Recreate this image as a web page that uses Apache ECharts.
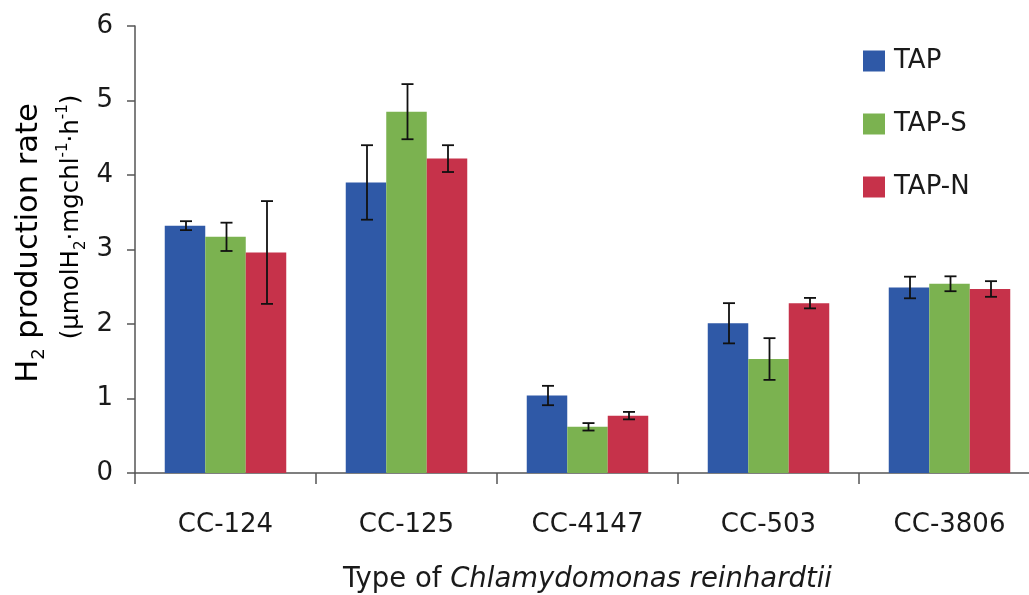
<!DOCTYPE html>
<html>
<head>
<meta charset="utf-8">
<script src="https://cdn.jsdelivr.net/npm/echarts@6/dist/echarts.min.js"></script>
<style>
html,body{margin:0;padding:0;background:#fff;}
#chart{width:1029px;height:595px;}
</style>
</head>
<body>
<div id="chart"></div>
<script>
// ---- data ----
const categories = ['CC-124', 'CC-125', 'CC-4147', 'CC-503', 'CC-3806'];
const seriesNames = ['TAP', 'TAP-S', 'TAP-N'];
const tapValues  = [3.32, 3.90, 1.04, 2.01, 2.49];
const tapErrors  = [0.06, 0.50, 0.13, 0.27, 0.145];
const tapSValues = [3.17, 4.85, 0.62, 1.53, 2.54];
const tapSErrors = [0.19, 0.37, 0.05, 0.28, 0.10];
const tapNValues = [2.96, 4.22, 0.77, 2.28, 2.47];
const tapNErrors = [0.69, 0.18, 0.05, 0.07, 0.105];
const yTicks = [0, 1, 2, 3, 4, 5, 6];

const colors = ['#2f59a7', '#7bb250', '#c6324a'];
const values = [tapValues, tapSValues, tapNValues];
const errors = [tapErrors, tapSErrors, tapNErrors];
const BAR_W = 40.5;
const FONT = '"DejaVu Sans", sans-serif';

const chart = echarts.init(document.getElementById('chart'), null, {renderer: 'canvas'});

const barSeries = seriesNames.map((name, s) => ({
  name: name,
  type: 'bar',
  barWidth: BAR_W,
  barGap: '0%',
  itemStyle: {color: colors[s]},
  data: values[s],
  z: 2
}));

const errSeries = seriesNames.map((name, s) => ({
  type: 'custom',
  name: name + ' err',
  z: 5,
  silent: true,
  encode: {x: 0, y: 1},
  data: values[s].map((v, i) => [i, v, errors[s][i]]),
  renderItem: function (params, api) {
    const x = api.value(0), v = api.value(1), e = api.value(2);
    const off = (s - 1) * BAR_W;
    const top = api.coord([x, v + e]);
    const bot = api.coord([x, v - e]);
    const cx = top[0] + off + 1;
    const cap = 6;
    const st = {stroke: '#111', lineWidth: 1.8};
    return {
      type: 'group',
      children: [
        {type: 'line', shape: {x1: cx, y1: top[1], x2: cx, y2: bot[1]}, style: st},
        {type: 'line', shape: {x1: cx - cap, y1: top[1], x2: cx + cap, y2: top[1]}, style: st},
        {type: 'line', shape: {x1: cx - cap, y1: bot[1], x2: cx + cap, y2: bot[1]}, style: st}
      ]
    };
  }
}));

function richSet(size) {
  const sub = Math.round(size * 0.6);
  return {
    m: {fontSize: size, fontFamily: FONT, lineHeight: size + 8, color: '#1a1a1a'},
    s: {fontSize: sub, fontFamily: FONT, lineHeight: sub, verticalAlign: 'bottom', color: '#1a1a1a'},
    p: {fontSize: sub, fontFamily: FONT, lineHeight: sub, verticalAlign: 'top', color: '#1a1a1a'}
  };
}

const option = {
  animation: false,
  backgroundColor: '#ffffff',
  textStyle: {fontFamily: FONT},
  grid: {left: 135, top: 26, width: 905, bottom: 122, containLabel: false, outerBoundsMode: 'none'},
  legend: {
    orient: 'vertical',
    left: 863,
    top: 48,
    padding: 0,
    itemWidth: 22,
    itemHeight: 21,
    itemGap: 37,
    data: seriesNames,
    icon: 'rect',
    textStyle: {fontSize: 26, lineHeight: 21, fontFamily: FONT, color: '#1a1a1a', padding: [0, 0, 0, 4]}
  },
  xAxis: {
    type: 'category',
    data: categories,
    boundaryGap: true,
    axisLine: {lineStyle: {color: '#555', width: 1.5}},
    axisTick: {show: true, length: 11, alignWithLabel: false, lineStyle: {color: '#555', width: 1.5}},
    axisLabel: {fontSize: 26, fontFamily: FONT, color: '#1a1a1a', margin: 39},
    name: '{n|Type of }{i|Chlamydomonas reinhardtii}',
    nameLocation: 'middle',
    nameGap: 93,
    nameTextStyle: {
      rich: {
        n: {fontSize: 27.5, fontFamily: FONT, color: '#1a1a1a'},
        i: {fontSize: 27.5, fontFamily: FONT, fontStyle: 'italic', color: '#1a1a1a'}
      }
    }
  },
  yAxis: {
    type: 'value',
    min: yTicks[0],
    max: yTicks[yTicks.length - 1],
    interval: 1,
    splitLine: {show: false},
    axisLine: {show: true, lineStyle: {color: '#555', width: 1.5}},
    axisTick: {show: true, length: 8, lineStyle: {color: '#555', width: 1.5}},
    axisLabel: {fontSize: 26, fontFamily: FONT, color: '#1a1a1a', margin: 22}
  },
  graphic: [
    {
      type: 'text',
      x: 29, y: 243,
      rotation: Math.PI / 2,
      style: {
        x: 0, y: 0,
        align: 'center', verticalAlign: 'middle',
        text: '{m|H}{s|2}{m| production rate}',
        rich: richSet(30.5)
      }
    },
    {
      type: 'text',
      x: 72, y: 217,
      rotation: Math.PI / 2,
      style: {
        x: 0, y: 0,
        align: 'center', verticalAlign: 'middle',
        text: '{m|(µmolH}{s|2}{m|·mgchl}{p|-1}{m|·h}{p|-1}{m|)}',
        rich: richSet(24.5)
      }
    }
  ],
  series: barSeries.concat(errSeries)
};

chart.setOption(option);
</script>
</body>
</html>
